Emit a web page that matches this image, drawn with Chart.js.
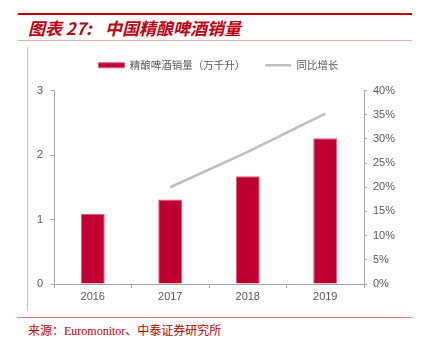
<!DOCTYPE html>
<html>
<head>
<meta charset="utf-8">
<script src="https://cdn.jsdelivr.net/npm/chart.js@4/dist/chart.umd.min.js"></script>
<style>
  html,body{margin:0;padding:0;background:#fff;width:421px;height:346px;overflow:hidden;position:relative;}
  .topline{position:absolute;left:18px;top:13px;width:394px;height:2px;background:#C00000;}
  .title{position:absolute;top:16px;font-family:"Noto Sans CJK SC","Liberation Sans",sans-serif;font-style:italic;font-weight:bold;font-size:17px;color:#C00010;line-height:24px;white-space:nowrap;}
  .pinkline{position:absolute;left:18px;top:40px;width:394px;height:1px;background:#EFA9A9;}
  .vline{position:absolute;left:27px;top:47px;width:1px;height:264px;background:#BFBFBF;}
  .botline{position:absolute;left:18px;top:317px;width:394px;height:1px;background:#E57373;}
  .source{position:absolute;left:28px;top:323px;font-family:"Liberation Serif","Noto Sans CJK SC",serif;font-size:12px;color:#C00000;line-height:16px;white-space:nowrap;}
  #wrap{position:absolute;left:0;top:40px;width:437px;height:270px;}
</style>
</head>
<body>
<div class="topline"></div>
<div class="title" style="left:28px;">图表 27:</div>
<div class="title" style="left:105px;">中国精酿啤酒销量</div>
<div class="pinkline"></div>
<div class="vline"></div>
<div id="wrap"><canvas id="c" width="437" height="270"></canvas></div>
<div class="botline"></div>
<div class="source">来源：Euromonitor、中泰证券研究所</div>
<script>
const categories = ['2016', '2017', '2018', '2019'];
const volume = [1.09, 1.31, 1.67, 2.26];          // 精酿啤酒销量（万千升）
const growth = [null, 20.0, 27.3, 35.2];          // 同比增长 (%)
const leftTicks = [0, 1, 2, 3];
const rightTicks = [0, 5, 10, 15, 20, 25, 30, 35, 40];

const axisColor = '#A6A6A6';
const tickFont = {family: '"Liberation Sans", Arial, sans-serif', size: 11};

const legendHeightPlugin = {
  id: 'legendHeight',
  afterInit(chart) {
    const lg = chart.legend;
    if (!lg) return;
    const f = lg.fit.bind(lg);
    lg.fit = function () { f(); this.height += 10; };
  }
};

new Chart(document.getElementById('c'), {
  plugins: [legendHeightPlugin],
  data: {
    labels: categories,
    datasets: [
      {
        type: 'bar',
        label: '精酿啤酒销量（万千升）',
        data: volume,
        yAxisID: 'y',
        backgroundColor: '#C00030',
        borderColor: '#D8607C',
        borderWidth: 1,
        barPercentage: 0.31,
        categoryPercentage: 1,
        pointStyle: 'rect',
        order: 2
      },
      {
        type: 'line',
        label: '同比增长',
        data: growth,
        yAxisID: 'y1',
        borderColor: '#BFBFBF',
        backgroundColor: '#BFBFBF',
        borderWidth: 2.5,
        pointRadius: 0,
        pointStyle: 'line',
        tension: 0,
        order: 1
      }
    ]
  },
  options: {
    responsive: false,
    animation: false,
    layout: {padding: 0},
    plugins: {
      tooltip: {enabled: false},
      legend: {
        position: 'top',
        labels: {
          usePointStyle: true,
          pointStyleWidth: 26,
          boxHeight: 5,
          padding: 20,
          color: '#595959',
          font: {family: '"Noto Sans CJK SC", sans-serif', size: 10.5},
          sort: (a, b) => a.datasetIndex - b.datasetIndex
        }
      }
    },
    scales: {
      x: {
        grid: {drawOnChartArea: false, drawTicks: true, tickLength: 4, color: axisColor, offset: true},
        border: {color: axisColor},
        ticks: {color: '#595959', font: tickFont, padding: 2},
        afterFit: s => { s.height = 26; }
      },
      y: {
        position: 'left',
        min: 0, max: 3,
        afterBuildTicks: s => { s.ticks = leftTicks.map(v => ({value: v})); },
        grid: {drawOnChartArea: false, drawTicks: true, tickLength: 3, color: axisColor},
        border: {color: axisColor},
        ticks: {color: '#595959', font: tickFont, padding: 8},
        afterFit: s => { s.width = 54; }
      },
      y1: {
        position: 'right',
        min: 0, max: 40,
        afterBuildTicks: s => { s.ticks = rightTicks.map(v => ({value: v})); },
        grid: {drawOnChartArea: false, drawTicks: true, tickLength: 3, color: axisColor},
        border: {color: axisColor},
        ticks: {color: '#595959', font: tickFont, padding: 6, callback: v => v + '%'},
        afterFit: s => { s.width = 73; }
      }
    }
  }
});
</script>
</body>
</html>
